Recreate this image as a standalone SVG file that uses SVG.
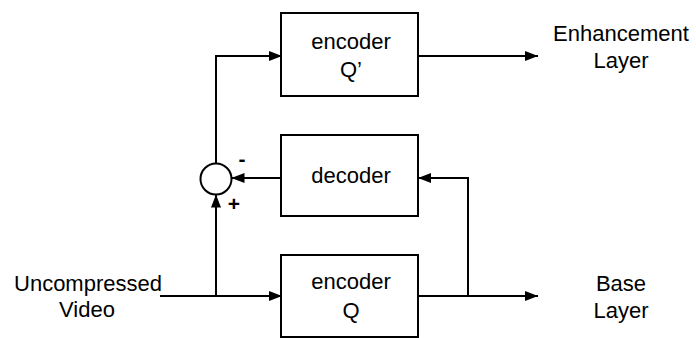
<svg xmlns="http://www.w3.org/2000/svg" width="696" height="338" viewBox="0 0 696 338">
<defs>
<marker id="ah" viewBox="0 0 13 10" refX="13" refY="5" markerWidth="13" markerHeight="10" markerUnits="userSpaceOnUse" orient="auto">
<path d="M0,0 L13,5 L0,10 Z" fill="#000"/>
</marker>
<style>
.box{fill:#fff;stroke:#000;stroke-width:2}
.ln{fill:none;stroke:#000;stroke-width:2}
.t{font-family:"Liberation Sans",Arial,sans-serif;font-size:22px;fill:#000;text-anchor:middle}
.s{font-family:"Liberation Sans",Arial,sans-serif;font-size:21px;font-weight:bold;fill:#000;text-anchor:middle}
</style>
</defs>
<rect width="696" height="338" fill="#fff"/>
<g id="connectors">
<path class="ln" d="M160,296 H282" marker-end="url(#ah)"/>
<path class="ln" d="M216,296 V194.5" marker-end="url(#ah)"/>
<path class="ln" d="M216,163 V56 H282" marker-end="url(#ah)"/>
<path class="ln" d="M281,178 H231.5" marker-end="url(#ah)"/>
<path class="ln" d="M418,56 H538" marker-end="url(#ah)"/>
<path class="ln" d="M418,296 H538" marker-end="url(#ah)"/>
<path class="ln" d="M468,296 V178 H418" marker-end="url(#ah)"/>
</g>
<g id="encoder-q-prime">
<rect class="box" x="281" y="13" width="137" height="83"/>
<text class="t" x="351" y="49">encoder</text>
<text class="t" x="351" y="77">Q’</text>
</g>
<g id="decoder">
<rect class="box" x="281" y="135" width="137" height="81"/>
<text class="t" x="351" y="183">decoder</text>
</g>
<g id="encoder-q">
<rect class="box" x="281" y="255" width="137" height="82"/>
<text class="t" x="351" y="289">encoder</text>
<text class="t" x="351" y="318">Q</text>
</g>
<g id="summer">
<circle cx="216" cy="179" r="15.5" fill="#fff" stroke="#000" stroke-width="2"/>
<text class="s" x="242" y="166">-</text>
<text class="s" x="234" y="211">+</text>
</g>
<g id="input">
<text class="t" x="88" y="291">Uncompressed</text>
<text class="t" x="87" y="317">Video</text>
</g>
<g id="enhancement-out">
<text class="t" x="621" y="41">Enhancement</text>
<text class="t" x="621" y="68">Layer</text>
</g>
<g id="base-out">
<text class="t" x="621" y="291">Base</text>
<text class="t" x="621" y="318">Layer</text>
</g>
</svg>
